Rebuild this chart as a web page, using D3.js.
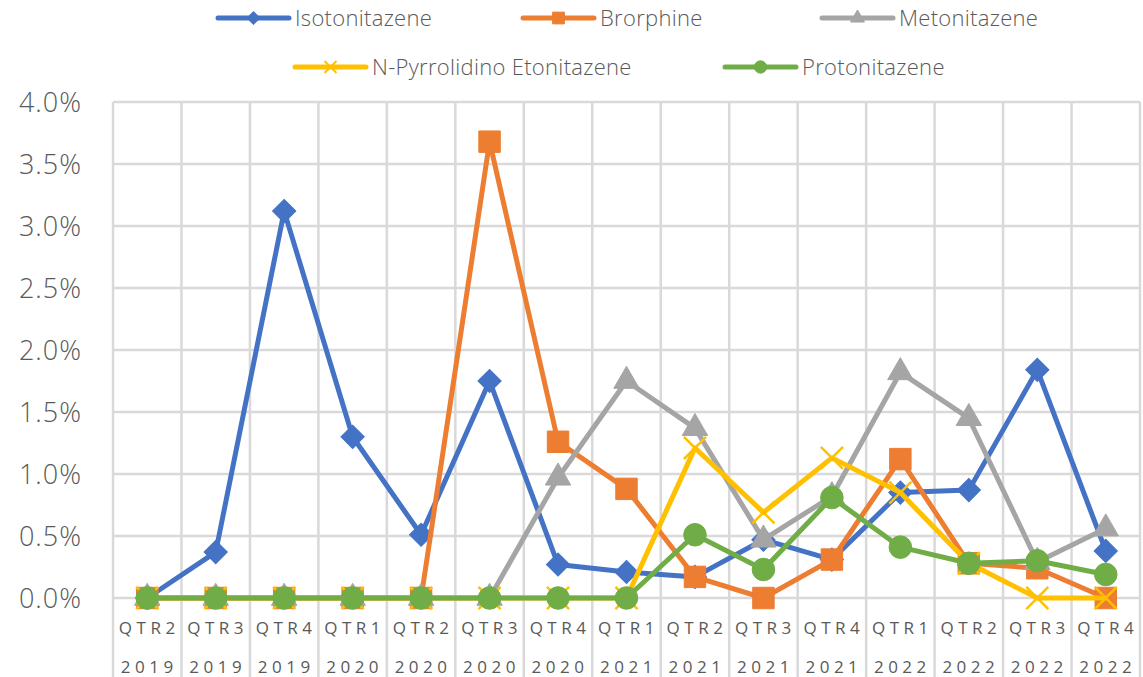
<!DOCTYPE html>
<meta charset="utf-8">
<style>
body { margin: 0; background: #fff; }
text { font-family: "Open Sans", sans-serif; fill: #595959; font-weight: 300; }
</style>
<body>
<script src="https://d3js.org/d3.v7.min.js"></script>
<script>
var width = 1143,
    height = 677;

var quarters = ["QTR2","QTR3","QTR4","QTR1","QTR2","QTR3","QTR4","QTR1","QTR2","QTR3","QTR4","QTR1","QTR2","QTR3","QTR4"];
var years = ["2019","2019","2019","2020","2020","2020","2020","2021","2021","2021","2021","2022","2022","2022","2022"];
var yTicks = [0, 0.5, 1, 1.5, 2, 2.5, 3, 3.5, 4];

var isotonitazene = [0, 0.37, 3.12, 1.30, 0.51, 1.75, 0.27, 0.21, 0.17, 0.47, 0.31, 0.85, 0.87, 1.84, 0.38];
var brorphine     = [0, 0, 0, 0, 0, 3.68, 1.26, 0.88, 0.17, 0, 0.31, 1.12, 0.28, 0.24, 0];
var metonitazene  = [0, 0, 0, 0, 0, 0, 0.97, 1.75, 1.37, 0.47, 0.82, 1.82, 1.45, 0.29, 0.56];
var pyrrolidino   = [0, 0, 0, 0, 0, 0, 0, 0, 1.21, 0.69, 1.13, 0.85, 0.28, 0, 0];
var protonitazene = [0, 0, 0, 0, 0, 0, 0, 0, 0.51, 0.23, 0.81, 0.41, 0.28, 0.30, 0.19];

var series = [
  {name: "Isotonitazene", values: isotonitazene, color: "#4472c4", symbol: d3.symbolSquare, rotate: 45, size: 270},
  {name: "Brorphine", values: brorphine, color: "#ed7d31", symbol: d3.symbolSquare, rotate: 0, size: 460},
  {name: "Metonitazene", values: metonitazene, color: "#a5a5a5", symbol: d3.symbolTriangle, rotate: 0, size: 280},
  {name: "N-Pyrrolidino Etonitazene", values: pyrrolidino, color: "#ffc000", symbol: d3.symbolX, rotate: 0, size: 320},
  {name: "Protonitazene", values: protonitazene, color: "#70ad47", symbol: d3.symbolCircle, rotate: 0, size: 400}
];

var plotLeft = 113, plotRight = 1140, plotTop = 102, plotBottom = 598;

var x = d3.scaleBand().domain(d3.range(quarters.length)).range([plotLeft, plotRight]);
var y = d3.scaleLinear().domain([0, 4]).range([plotBottom, plotTop]);

var svg = d3.select("body").append("svg")
    .attr("width", width)
    .attr("height", height);

// grid
svg.append("g").selectAll("line")
  .data(yTicks)
  .join("line")
    .attr("x1", plotLeft).attr("x2", plotRight)
    .attr("y1", d => y(d)).attr("y2", d => y(d))
    .attr("stroke", "#d9d9d9").attr("stroke-width", 2.5);

svg.append("g").selectAll("line")
  .data(d3.range(quarters.length + 1))
  .join("line")
    .attr("x1", d => plotLeft + d * x.step()).attr("x2", d => plotLeft + d * x.step())
    .attr("y1", plotTop).attr("y2", height)
    .attr("stroke", "#d9d9d9").attr("stroke-width", 2.5);

// y labels
svg.append("g").selectAll("text")
  .data(yTicks)
  .join("text")
    .attr("x", 82)
    .attr("y", d => y(d))
    .attr("dy", "0.36em")
    .attr("text-anchor", "end")
    .style("font-size", "27px")
    .style("letter-spacing", "1px")
    .text(d => d3.format(".1f")(d) + "%");

// x labels
var xl = svg.append("g");
xl.selectAll("text.q")
  .data(quarters)
  .join("text")
    .attr("class", "q")
    .attr("x", (d, i) => x(i) + x.bandwidth() / 2 + 2)
    .attr("y", 634)
    .attr("text-anchor", "middle")
    .style("font-size", "17px")
    .style("font-weight", 400)
    .style("letter-spacing", "4.5px")
    .text(d => d);
xl.selectAll("text.yr")
  .data(years)
  .join("text")
    .attr("class", "yr")
    .attr("x", (d, i) => x(i) + x.bandwidth() / 2 + 2)
    .attr("y", 673)
    .attr("text-anchor", "middle")
    .style("font-size", "17px")
    .style("font-weight", 400)
    .style("letter-spacing", "4.5px")
    .text(d => d);

var line = d3.line()
    .x((d, i) => x(i) + x.bandwidth() / 2)
    .y(d => y(d));

var g = svg.append("g");
series.forEach(function(s) {
  var sg = g.append("g");
  sg.append("path")
    .attr("d", line(s.values))
    .attr("fill", "none")
    .attr("stroke", s.color)
    .attr("stroke-width", 5)
    .attr("stroke-linejoin", "round");
  var sym = d3.symbol().type(s.symbol).size(s.size);
  sg.selectAll("path.m")
    .data(s.values)
    .join("path")
      .attr("class", "m")
      .attr("transform", (d, i) => "translate(" + (x(i) + x.bandwidth() / 2) + "," + y(d) + ") rotate(" + s.rotate + ")")
      .attr("d", sym)
      .attr("fill", s.symbol === d3.symbolX ? "none" : s.color)
      .attr("stroke", s.color)
      .attr("stroke-width", s.symbol === d3.symbolX ? 2.5 : 1);
});

// legend
var legendPos = [
  {x: 218, y: 18}, {x: 523, y: 18}, {x: 822, y: 18},
  {x: 295, y: 67}, {x: 725, y: 67}
];
var lg = svg.append("g");
series.forEach(function(s, i) {
  var p = legendPos[i];
  var item = lg.append("g").attr("transform", "translate(" + p.x + "," + p.y + ")");
  item.append("line")
    .attr("x1", 0).attr("x2", 71)
    .attr("stroke", s.color).attr("stroke-width", 5).attr("stroke-linecap", "round");
  item.append("path")
    .attr("transform", "translate(35.5,0) rotate(" + s.rotate + ")")
    .attr("d", d3.symbol().type(s.symbol).size(s.size * 0.3))
    .attr("fill", s.symbol === d3.symbolX ? "none" : s.color)
    .attr("stroke", s.color)
    .attr("stroke-width", s.symbol === d3.symbolX ? 2 : 1);
  item.append("text")
    .attr("x", 77)
    .attr("dy", "0.36em")
    .style("font-size", "22px")
    .style("letter-spacing", "0.3px")
    .text(s.name);
});
</script>
</body>
